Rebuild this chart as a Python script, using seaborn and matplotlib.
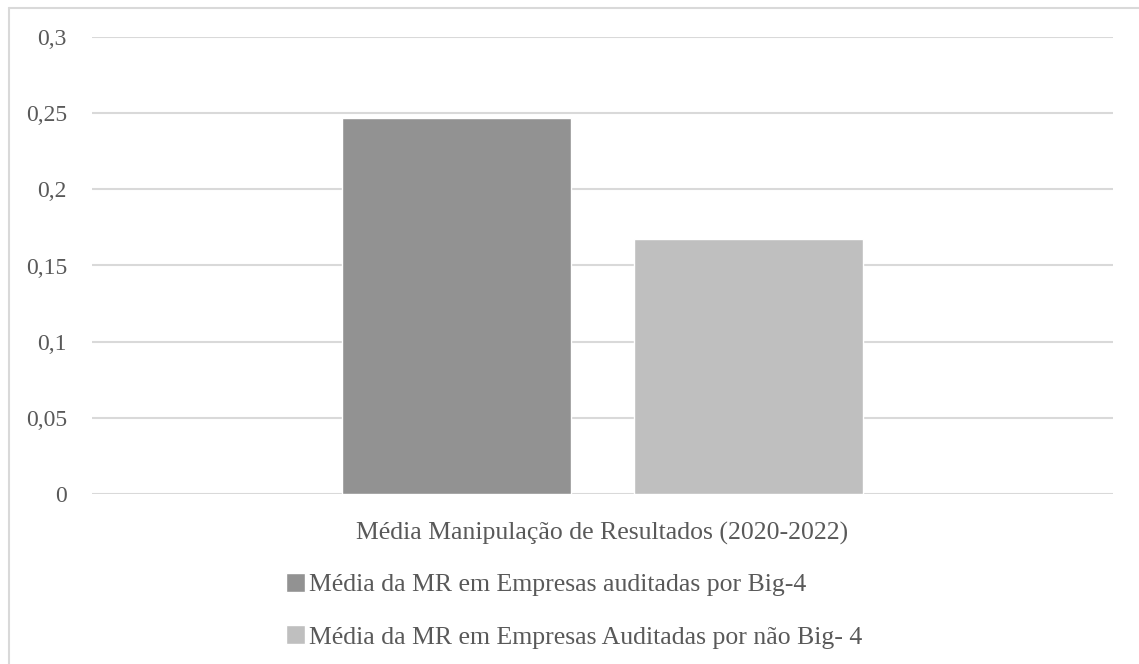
import matplotlib
matplotlib.use("Agg")
import matplotlib.pyplot as plt
import seaborn as sns
import pandas as pd
from matplotlib.ticker import FuncFormatter, MultipleLocator
from matplotlib.lines import Line2D

categoria = ["Média Manipulação de Resultados (2020-2022)"]
series = ["Média da MR em Empresas auditadas por Big-4",
          "Média da MR em Empresas Auditadas por não Big- 4"]
valores = [0.2465, 0.1677]
cores = ["#929292", "#bfbfbf"]

df = pd.DataFrame({
    "cat": categoria * len(series),
    "serie": series,
    "valor": valores,
})

sns.set_theme(style="white")
plt.rcParams["font.family"] = ["Liberation Serif", "DejaVu Serif"]
txt = "#595959"
fs = 18.5

fig = plt.figure(figsize=(11.39, 6.64), dpi=100)
W, H = 1139, 664
ax = fig.add_axes([92 / W, 1 - 494 / H, (1113 - 92) / W, (494 - 37) / H])

sns.barplot(data=df, x="cat", y="valor", hue="serie", palette=cores,
            width=0.571, gap=0.215, saturation=1, ax=ax, zorder=3)

ax.set_ylim(0, 0.3)
ax.set_xlim(-0.5, 0.5)
ax.yaxis.set_major_locator(MultipleLocator(0.05))
ax.yaxis.set_major_formatter(FuncFormatter(lambda v, p: f"{v:g}".replace(".", ",")))
ax.grid(axis="y", color="#d9d9d9", linewidth=1.5, zorder=0)
ax.set_axisbelow(True)
for s in ax.spines.values():
    s.set_visible(False)
ax.set_xlabel("")
ax.set_ylabel("")
ax.tick_params(axis="y", length=0, pad=18, labelsize=17, labelcolor=txt)
ax.tick_params(axis="x", length=0, pad=20, labelsize=fs, labelcolor=txt)

handles, labels = ax.get_legend_handles_labels()
if ax.legend_:
    ax.legend_.remove()
fig.legend(handles, labels, loc="upper left",
           bbox_to_anchor=(286 / W, 1 - 573 / H), frameon=False,
           fontsize=fs, labelcolor=txt, handlelength=0.74, handleheight=0.74,
           handletextpad=0.14, labelspacing=1.13, borderpad=0, borderaxespad=0)

fig.add_artist(Line2D([8.5 / W, 8.5 / W], [0, 1 - 7.5 / H], color="#d9d9d9", linewidth=1.5, transform=fig.transFigure))
fig.add_artist(Line2D([8.5 / W, 1], [1 - 7.5 / H, 1 - 7.5 / H], color="#d9d9d9", linewidth=1.5, transform=fig.transFigure))

fig.savefig("out.png", dpi=100, facecolor="white")
